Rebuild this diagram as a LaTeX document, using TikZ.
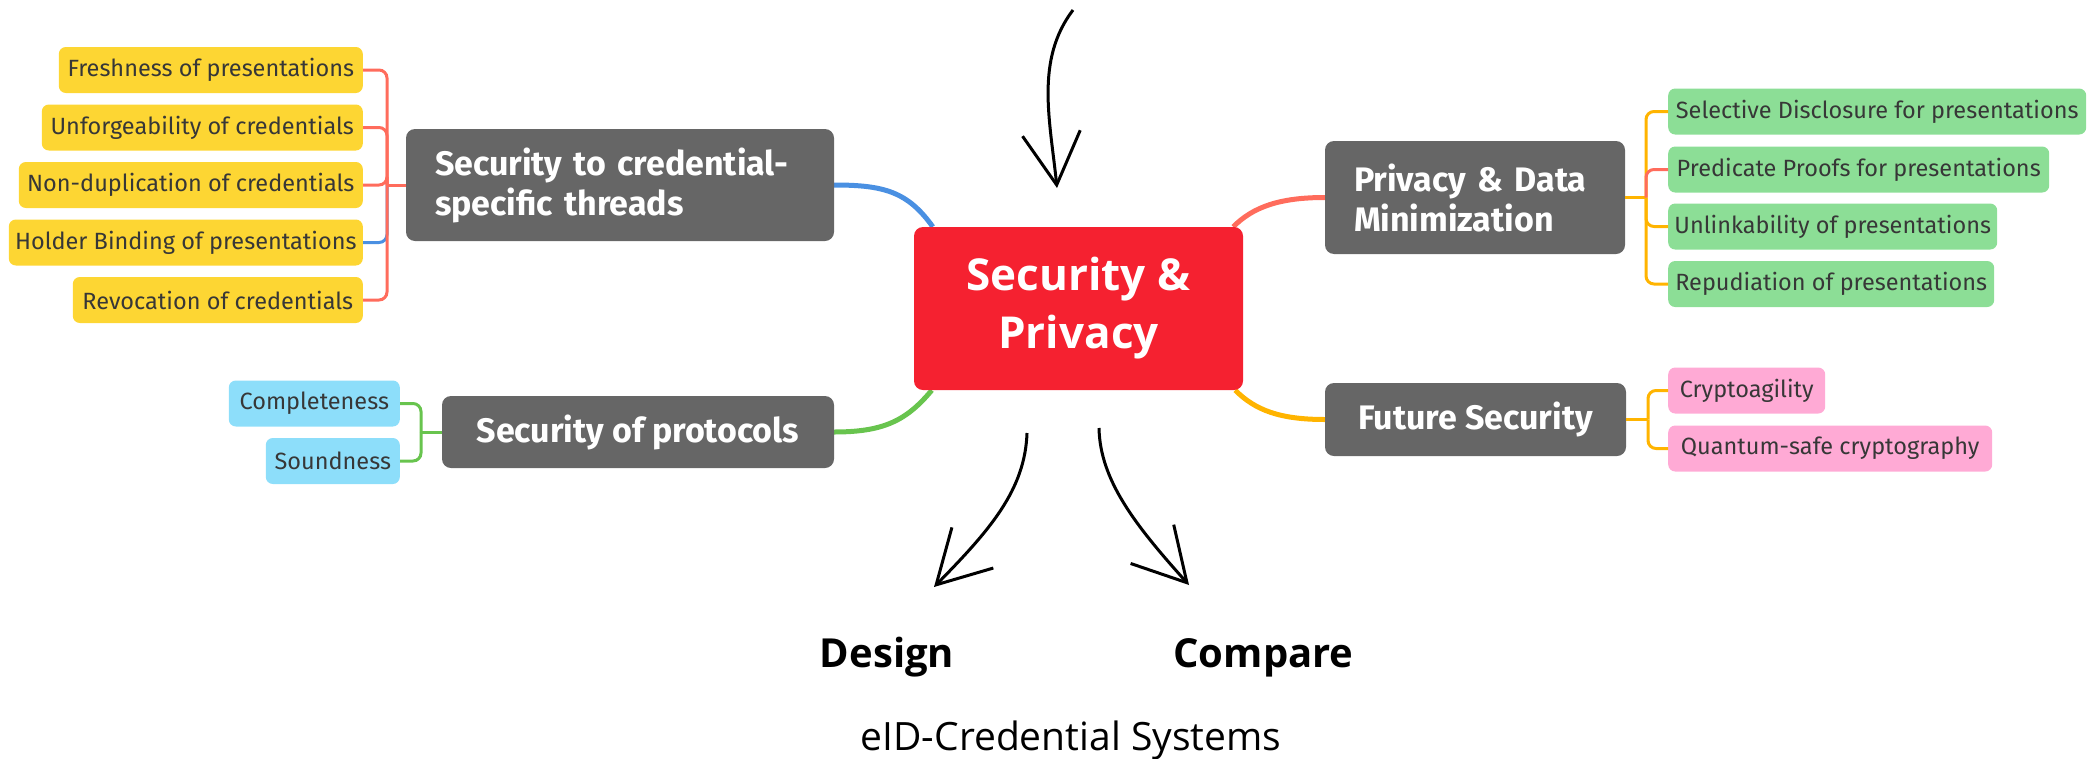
\documentclass[tikz,border=0pt]{standalone}
\usepackage{fontspec}
\setmainfont{Open Sans}
\newfontfamily\mapfont{Fira Sans}
\usetikzlibrary{arrows.meta,backgrounds}
\definecolor{rootcol}{RGB}{245,33,48}
\definecolor{topcol}{RGB}{102,102,102}
\definecolor{ycol}{RGB}{253,214,51}
\definecolor{gcol}{RGB}{140,222,150}
\definecolor{bcol}{RGB}{141,222,250}
\definecolor{pcol}{RGB}{255,170,213}
\definecolor{tcol}{RGB}{55,55,55}
\definecolor{lblue}{RGB}{74,144,226}
\definecolor{lred}{RGB}{255,108,92}
\definecolor{lgreen}{RGB}{104,196,78}
\definecolor{lorange}{RGB}{255,180,0}
\tikzset{every picture/.style={x=1pt,y=-1pt}}
\tikzset{root/.style={fill=rootcol,rounded corners=9,text=white,inner sep=0pt,align=center,font=\bfseries\fontsize{44}{58}\selectfont}}
\tikzset{topic/.style={fill=topcol,rounded corners=9,text=white,inner sep=0pt,align=left,font=\mapfont\bfseries\fontsize{34}{40}\selectfont}}
\tikzset{leaf/.style={rounded corners=7,text=tcol,inner sep=0pt,minimum height=46,font=\mapfont\fontsize{23.5}{28}\selectfont}}
\tikzset{branch/.style={line width=5pt}}
\tikzset{twig/.style={line width=3pt,rounded corners=8}}
\tikzset{sketch/.style={line width=3pt,-{Straight Barb[length=52pt,width=58pt]}}}
\tikzset{bigword/.style={font=\bfseries\fontsize{40}{48}\selectfont,inner sep=0pt}}

\begin{document}
\begin{tikzpicture}
\useasboundingbox (0,0) rectangle (2092,758);

\node [root,minimum width=329,minimum height=163] (root) at (1078.5,308.5) {Security \&\\Privacy};

\node [topic,minimum width=428,minimum height=112,text width=370] (threads) at (620,185) {Security to credential-\\specific threads};
\node [topic,minimum width=392,minimum height=72] (protocols) at (638,432) {Security of protocols};
\node [topic,minimum width=300,minimum height=113,text width=242] (privacy) at (1475,197.5) {Privacy \& Data\\Minimization};
\node [topic,minimum width=301,minimum height=73] (future) at (1475.5,419.5) {Future Security};

\node [leaf,fill=ycol,anchor=east,minimum width=304] (fresh) at (363,70) {Freshness of presentations};
\node [leaf,fill=ycol,anchor=east,minimum width=321] (unforge) at (363,127.5) {Unforgeability of credentials};
\node [leaf,fill=ycol,anchor=east,minimum width=344] (nondup) at (363,185) {Non-duplication of credentials};
\node [leaf,fill=ycol,anchor=east,minimum width=354] (holder) at (363,242.5) {Holder Binding of presentations};
\node [leaf,fill=ycol,anchor=east,minimum width=290] (revoke) at (363,300) {Revocation of credentials};

\node [leaf,fill=bcol,anchor=east,minimum width=171] (complete) at (400,403.5) {Completeness};
\node [leaf,fill=bcol,anchor=east,minimum width=134] (sound) at (400,461) {Soundness};

\node [leaf,fill=gcol,anchor=west,minimum width=418] (select) at (1668,111.5) {Selective Disclosure for presentations};
\node [leaf,fill=gcol,anchor=west,minimum width=381] (predicate) at (1668,169.5) {Predicate Proofs for presentations};
\node [leaf,fill=gcol,anchor=west,minimum width=329] (unlink) at (1668,226.5) {Unlinkability of presentations};
\node [leaf,fill=gcol,anchor=west,minimum width=326] (repud) at (1668,284) {Repudiation of presentations};

\node [leaf,fill=pcol,anchor=west,minimum width=157] (agile) at (1668,390.5) {Cryptoagility};
\node [leaf,fill=pcol,anchor=west,minimum width=324] (quantum) at (1668,448.5) {Quantum-safe cryptography};

\coordinate (thr-fork) at (387,185);
\coordinate (pro-fork) at (421,432);
\coordinate (pri-fork) at (1646,197.5);
\coordinate (fut-fork) at (1648,419.5);

\begin{scope}[on background layer]
\draw [branch,lblue] ([xshift=19pt]root.north west) .. controls +(-25,-35) and +(50,0) .. (threads.east);
\draw [branch,lgreen] ([xshift=18pt]root.south west) .. controls +(-25,30) and +(50,0) .. (protocols.east);
\draw [branch,lred] ([xshift=-10pt]root.north east) .. controls +(20,-20) and +(-45,0) .. (privacy.west);
\draw [branch,lorange] ([xshift=-8pt]root.south east) .. controls +(20,20) and +(-45,0) .. (future.west);
\end{scope}

\draw [twig,lblue] (thr-fork) |- (holder.east);
\draw [twig,lred] (threads.west) -- (thr-fork);
\draw [twig,lred] (thr-fork) |- (fresh.east);
\draw [twig,lred] (thr-fork) |- (unforge.east);
\draw [twig,lred] (thr-fork) |- (nondup.east);
\draw [twig,lred] (thr-fork) |- (revoke.east);

\draw [twig,lgreen] (protocols.west) -- (pro-fork);
\draw [twig,lgreen] (pro-fork) |- (complete.east);
\draw [twig,lgreen] (pro-fork) |- (sound.east);

\draw [twig,lorange] (privacy.east) -- (pri-fork);
\draw [twig,lorange] (pri-fork) |- (select.west);
\draw [twig,lorange] (pri-fork) |- (unlink.west);
\draw [twig,lorange] (pri-fork) |- (repud.west);
\draw [twig,lred] (pri-fork) |- (predicate.west);

\draw [twig,lorange] (future.east) -- (fut-fork);
\draw [twig,lorange] (fut-fork) |- (agile.west);
\draw [twig,lorange] (fut-fork) |- (quantum.west);

\coordinate (in-s) at (1073,10);
\coordinate (in-t) at (1057,188);
\coordinate (des-s) at (1027,433);
\coordinate (des-t) at (934,587);
\coordinate (cmp-s) at (1099,428);
\coordinate (cmp-t) at (1189,585);

\draw [sketch] (in-s) .. controls (1035,60) and (1050,120) .. (in-t);
\draw [sketch] (des-s) .. controls (1025,490) and (990,530) .. (des-t);
\draw [sketch] (cmp-s) .. controls (1100,480) and (1135,525) .. (cmp-t);

\node [bigword,anchor=base] (design) at (887,667) {Design};
\node [bigword,anchor=base] (compare) at (1263.5,667) {Compare};
\node [anchor=base,inner sep=0pt,font=\fontsize{39}{46}\selectfont] (system) at (1071,750) {eID-Credential Systems};
\end{tikzpicture}
\end{document}
